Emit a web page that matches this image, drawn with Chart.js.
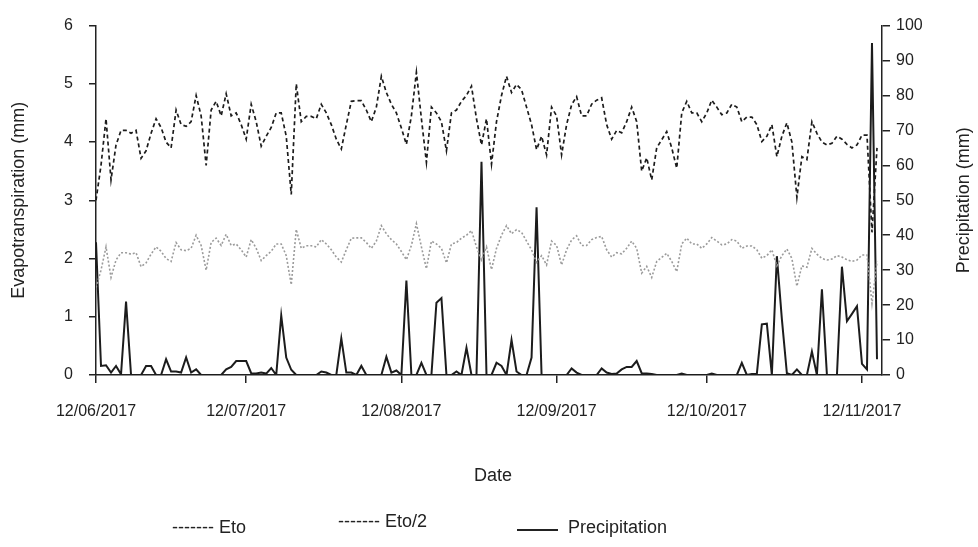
<!DOCTYPE html>
<html>
<head>
<meta charset="utf-8">
<script src="https://cdn.jsdelivr.net/npm/chart.js@4"></script>
<style>
  body { margin: 0; background: #fff; }
  #wrap { position: relative; width: 978px; height: 547px; font-family: "Liberation Sans", Arial, sans-serif; color: #222; }
  #myChart { position: absolute; left: 0; top: 0; }
  .lbl { position: absolute; font-size: 18px; line-height: 20px; white-space: pre; }
  .swatch { position: absolute; height: 2px; background: #222; }
</style>
</head>
<body>
<div id="wrap">
  <canvas id="myChart" width="978" height="547"></canvas>
  <div class="lbl" style="left:474px; top:465px;">Date</div>
  <div class="lbl" style="left:172px; top:517px;">------- Eto</div>
  <div class="lbl" style="left:338px; top:511px;">------- Eto/2</div>
  <div class="swatch" style="left:517px; top:529px; width:41px;"></div>
  <div class="lbl" style="left:568px; top:517px;">Precipitation</div>
</div>
<script>
// daily series from 12/06/2017, one value per day
var startDate = new Date(2017, 5, 12);
var tickLabels = ['12/06/2017', '12/07/2017', '12/08/2017', '12/09/2017', '12/10/2017', '12/11/2017'];
var tickDays = [0, 30, 61, 92, 122, 153];
var lastDay = 157;

// reference evapotranspiration (mm)
var eto = [
  3.0, 3.6, 4.4, 3.35, 3.95, 4.2, 4.2, 4.15, 4.2, 3.72,
  3.85, 4.15, 4.4, 4.25, 4.0, 3.9, 4.55, 4.3, 4.27, 4.35,
  4.8, 4.45, 3.6, 4.55, 4.7, 4.45, 4.83, 4.45, 4.5, 4.3,
  4.05, 4.65, 4.35, 3.93, 4.1, 4.25, 4.5, 4.5, 4.1, 3.1,
  5.0, 4.35, 4.44, 4.44, 4.4, 4.65, 4.5, 4.3, 4.05, 3.88,
  4.3, 4.7, 4.71, 4.71, 4.55, 4.35, 4.6, 5.13, 4.85, 4.65,
  4.5, 4.24, 3.96, 4.45, 5.2, 4.4, 3.65, 4.6, 4.5, 4.35,
  3.85, 4.5, 4.55, 4.7, 4.8, 4.96, 4.4, 3.95, 4.4, 3.62,
  4.35, 4.8, 5.13, 4.85, 4.99, 4.9, 4.6, 4.3, 3.87, 4.1,
  3.78, 4.6, 4.45, 3.78, 4.3, 4.64, 4.78, 4.45, 4.45, 4.65,
  4.72, 4.76, 4.3, 4.05, 4.2, 4.16, 4.35, 4.6, 4.35, 3.5,
  3.73, 3.35, 3.9, 4.04, 4.18, 3.9, 3.55, 4.5, 4.7, 4.5,
  4.5, 4.35, 4.5, 4.72, 4.6, 4.47, 4.5, 4.65, 4.6, 4.35,
  4.43, 4.43, 4.3, 4.01, 4.1, 4.3, 3.75, 4.1, 4.33, 4.0,
  3.05, 3.75, 3.7, 4.35, 4.15, 4.0, 3.95, 3.98, 4.1, 4.05,
  3.96, 3.9, 3.95, 4.12, 4.12, 2.45, 3.9
];

// daily rainfall (mm)
var precipitation = [
  38, 2.6, 2.8, 0.7, 2.6, 0.2, 21, 0, 0, 0,
  2.6, 2.6, 0, 0, 4.5, 1, 1, 0.7, 5, 0.7,
  1.6, 0, 0, 0, 0, 0, 1.6, 2.3, 4, 4,
  4, 0.5, 0.4, 0.7, 0.4, 2, 0, 17, 5, 1.5,
  0, 0, 0, 0, 0, 1, 0.7, 0, 0, 10.5,
  0.7, 0.7, 0, 2.6, 0, 0, 0, 0, 5.2, 0.7,
  1.3, 0, 27, 0, 0, 3.5, 0, 0, 20.7, 22,
  0, 0, 1, 0, 7.8, 0, 0, 61, 0, 0,
  3.5, 2.6, 0, 10, 1, 0, 0, 5, 48, 0,
  0, 0, 0, 0, 0, 1.9, 0.7, 0, 0, 0,
  0, 1.9, 0.7, 0.3, 0.4, 1.6, 2.3, 2.3, 4, 0.5,
  0.4, 0.3, 0, 0, 0, 0, 0, 0.4, 0, 0,
  0, 0, 0, 0.4, 0, 0, 0, 0, 0, 3.5,
  0, 0.3, 0.3, 14.5, 14.7, 0, 34, 16, 0.5, 0,
  1.6, 0, 0, 6.7, 0, 24.5, 0, 0, 0, 31,
  15.4, 17.5, 19.7, 3.2, 1.6, 95, 4.5
];

var etoHalf = eto.map(function (v) { return v / 2; });

var days = [];
var dates = [];
for (var i = 0; i <= lastDay; i++) {
  var d = new Date(startDate.getTime());
  d.setDate(d.getDate() + i);
  days.push(i);
  dates.push(d.toLocaleDateString('en-GB'));
}

var ink = '#222';
var fontFamily = '"Liberation Sans", Arial, sans-serif';
var tickFont = { family: fontFamily, size: 16 };
var titleFont = { family: fontFamily, size: 18 };

// right axis title, written bottom-to-top like the left one
var rightTitle = {
  id: 'rightTitle',
  afterDraw: function (chart) {
    var c = chart.ctx;
    var area = chart.chartArea;
    c.save();
    c.translate(chart.width - 14, (area.top + area.bottom) / 2);
    c.rotate(-Math.PI / 2);
    c.fillStyle = ink;
    c.font = '18px ' + fontFamily;
    c.textAlign = 'center';
    c.textBaseline = 'middle';
    c.fillText('Precipitation (mm)', 0, 0);
    c.restore();
  }
};

var ctx = document.getElementById('myChart').getContext('2d');
var myChart = new Chart(ctx, {
  type: 'line',
  data: {
    labels: days,
    datasets: [{
      label: 'Eto',
      data: eto,
      yAxisID: 'y',
      borderColor: '#1c1c1c',
      borderWidth: 1.7,
      borderDash: [4, 3],
      pointRadius: 0,
      tension: 0
    }, {
      label: 'Eto/2',
      data: etoHalf,
      yAxisID: 'y',
      borderColor: '#9b9b9b',
      borderWidth: 1.6,
      borderDash: [2, 2],
      pointRadius: 0,
      tension: 0
    }, {
      label: 'Precipitation',
      data: precipitation,
      yAxisID: 'y1',
      borderColor: '#1c1c1c',
      borderWidth: 2,
      pointRadius: 0,
      tension: 0
    }]
  },
  options: {
    responsive: false,
    animation: false,
    devicePixelRatio: 1,
    layout: { padding: { top: 24, left: 0, right: 0, bottom: 0 } },
    plugins: {
      legend: { display: false },
      tooltip: { enabled: false }
    },
    scales: {
      x: {
        type: 'linear',
        min: 0,
        max: lastDay,
        border: { display: true, color: ink, width: 1.5 },
        grid: { display: true, drawOnChartArea: false, tickLength: 8, color: ink, lineWidth: 1.5 },
        afterBuildTicks: function (scale) {
          scale.ticks = tickDays.map(function (v) { return { value: v }; });
        },
        afterFit: function (scale) { scale.height = 172; },
        ticks: {
          color: ink,
          font: tickFont,
          padding: 19,
          maxRotation: 0,
          autoSkip: false,
          callback: function (value) {
            var k = tickDays.indexOf(value);
            return k >= 0 ? tickLabels[k] : '';
          }
        }
      },
      y: {
        position: 'left',
        min: 0,
        max: 6,
        border: { display: true, color: ink, width: 1.5 },
        grid: { display: true, drawOnChartArea: false, tickLength: 7, color: ink, lineWidth: 1.5 },
        afterFit: function (scale) { scale.width = 96; },
        ticks: { stepSize: 1, color: ink, font: tickFont, padding: 16 },
        title: {
          display: true,
          text: 'Evapotranspiration (mm)',
          color: ink,
          font: titleFont,
          padding: { top: 8, bottom: 4 }
        }
      },
      y1: {
        position: 'right',
        min: 0,
        max: 100,
        border: { display: true, color: ink, width: 1.5 },
        grid: { display: true, drawOnChartArea: false, tickLength: 8, color: ink, lineWidth: 1.5 },
        afterFit: function (scale) { scale.width = 96; },
        ticks: { stepSize: 10, color: ink, font: tickFont, padding: 6 }
      }
    }
  },
  plugins: [rightTitle]
});
</script>
</body>
</html>
